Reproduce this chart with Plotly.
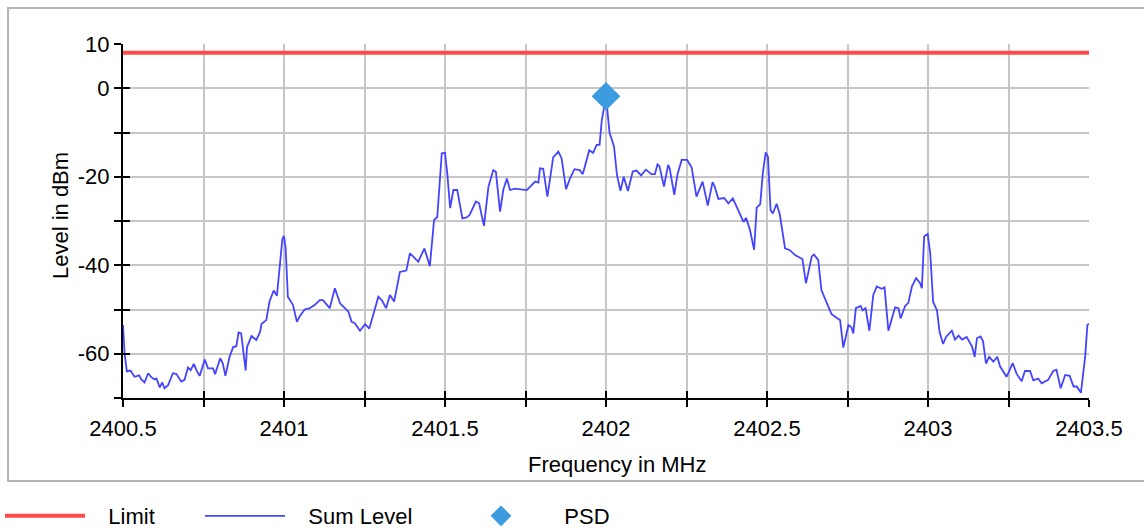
import plotly.graph_objects as go

# Spectrum sweep around 2402 MHz
freq_mhz = [
    2400.500, 2400.505, 2400.512, 2400.523, 2400.536, 2400.550, 2400.557, 2400.567, 2400.578, 2400.588,
    2400.598, 2400.604, 2400.614, 2400.622, 2400.629, 2400.640, 2400.655, 2400.666, 2400.681, 2400.691,
    2400.702, 2400.710, 2400.720, 2400.728, 2400.738, 2400.754, 2400.764, 2400.780, 2400.786, 2400.802,
    2400.810, 2400.818, 2400.831, 2400.842, 2400.852, 2400.859, 2400.867, 2400.881, 2400.885, 2400.899,
    2400.914, 2400.926, 2400.930, 2400.945, 2400.955, 2400.968, 2400.978, 2400.987, 2400.995, 2401.000,
    2401.005, 2401.012, 2401.028, 2401.040, 2401.049, 2401.064, 2401.080, 2401.095, 2401.111, 2401.121,
    2401.142, 2401.158, 2401.174, 2401.189, 2401.200, 2401.210, 2401.220, 2401.236, 2401.252, 2401.265,
    2401.293, 2401.304, 2401.317, 2401.329, 2401.342, 2401.360, 2401.380, 2401.391, 2401.417, 2401.436,
    2401.443, 2401.453, 2401.466, 2401.476, 2401.490, 2401.500, 2401.507, 2401.516, 2401.526, 2401.538,
    2401.554, 2401.567, 2401.576, 2401.596, 2401.606, 2401.621, 2401.635, 2401.650, 2401.658, 2401.671,
    2401.681, 2401.692, 2401.702, 2401.717, 2401.754, 2401.780, 2401.790, 2401.795, 2401.805, 2401.818,
    2401.836, 2401.852, 2401.862, 2401.876, 2401.888, 2401.902, 2401.918, 2401.928, 2401.948, 2401.960,
    2401.971, 2401.980, 2401.987, 2402.000, 2402.011, 2402.025, 2402.034, 2402.045, 2402.055, 2402.068,
    2402.083, 2402.095, 2402.109, 2402.124, 2402.141, 2402.152, 2402.160, 2402.166, 2402.180, 2402.193,
    2402.198, 2402.212, 2402.222, 2402.235, 2402.252, 2402.266, 2402.281, 2402.300, 2402.316, 2402.331,
    2402.337, 2402.349, 2402.367, 2402.380, 2402.394, 2402.404, 2402.414, 2402.427, 2402.435, 2402.447,
    2402.460, 2402.468, 2402.479, 2402.487, 2402.496, 2402.503, 2402.511, 2402.518, 2402.530, 2402.540,
    2402.556, 2402.571, 2402.587, 2402.603, 2402.610, 2402.621, 2402.639, 2402.646, 2402.659, 2402.669,
    2402.685, 2402.700, 2402.715, 2402.727, 2402.737, 2402.753, 2402.762, 2402.768, 2402.776, 2402.791,
    2402.797, 2402.806, 2402.818, 2402.830, 2402.841, 2402.856, 2402.865, 2402.877, 2402.888, 2402.898,
    2402.908, 2402.915, 2402.929, 2402.939, 2402.950, 2402.963, 2402.975, 2402.981, 2402.988, 2402.999,
    2403.007, 2403.016, 2403.028, 2403.036, 2403.047, 2403.056, 2403.074, 2403.084, 2403.095, 2403.106,
    2403.120, 2403.137, 2403.145, 2403.152, 2403.163, 2403.171, 2403.180, 2403.190, 2403.203, 2403.215,
    2403.224, 2403.244, 2403.263, 2403.275, 2403.291, 2403.301, 2403.317, 2403.327, 2403.342, 2403.353,
    2403.373, 2403.389, 2403.399, 2403.412, 2403.426, 2403.440, 2403.452, 2403.462, 2403.475, 2403.488,
    2403.495, 2403.500,
]

sum_level_dbm = [
    -53.5, -60.0, -64.0, -63.8, -65.2, -64.9, -65.8, -66.5, -64.4, -65.3,
    -65.8, -65.6, -67.6, -66.5, -67.8, -67.1, -64.4, -64.6, -66.3, -65.9,
    -63.1, -63.7, -62.3, -63.7, -65.0, -61.3, -63.3, -63.3, -64.6, -61.0,
    -62.2, -65.0, -60.7, -58.5, -58.3, -55.2, -55.4, -63.8, -58.5, -56.0,
    -56.9, -55.0, -53.3, -52.4, -48.2, -45.7, -46.9, -39.6, -34.0, -33.4,
    -36.0, -47.1, -49.0, -52.8, -51.5, -50.0, -49.7, -49.0, -47.9, -47.9,
    -49.7, -45.2, -48.6, -49.7, -50.5, -52.8, -53.1, -54.8, -53.3, -54.3,
    -47.1, -47.9, -49.7, -46.7, -48.2, -41.5, -41.2, -37.3, -39.2, -36.2,
    -38.0, -40.2, -29.8, -29.1, -14.7, -14.6, -19.2, -27.1, -23.0, -23.0,
    -29.4, -29.2, -28.7, -25.6, -26.0, -31.1, -22.2, -18.5, -18.9, -27.9,
    -23.0, -20.4, -23.0, -22.7, -23.0, -21.1, -21.3, -18.1, -18.2, -24.5,
    -15.6, -14.3, -15.8, -22.8, -20.4, -18.3, -18.5, -19.4, -14.0, -14.6,
    -12.8, -12.8, -7.2, -1.8, -10.0, -13.2, -19.6, -23.2, -20.0, -23.2,
    -18.8, -18.6, -19.7, -18.4, -19.4, -19.4, -17.2, -17.6, -22.2, -17.3,
    -18.2, -24.1, -19.5, -16.2, -16.2, -17.9, -24.5, -21.1, -26.5, -21.2,
    -22.1, -25.0, -24.8, -26.0, -24.9, -26.4, -27.9, -30.2, -29.3, -32.0,
    -36.5, -27.0, -26.2, -19.2, -14.5, -15.5, -27.5, -28.3, -26.1, -28.6,
    -36.2, -36.6, -37.7, -38.2, -38.6, -44.1, -38.0, -37.6, -38.8, -45.6,
    -48.5, -51.0, -51.8, -52.4, -58.6, -53.5, -54.0, -55.4, -49.7, -49.2,
    -50.2, -49.7, -54.8, -46.7, -44.8, -45.3, -45.0, -54.8, -52.0, -49.5,
    -49.7, -52.0, -49.2, -48.5, -44.8, -42.9, -44.0, -45.2, -33.5, -32.9,
    -37.3, -48.3, -50.2, -55.1, -57.8, -56.2, -54.8, -56.8, -55.9, -56.8,
    -56.2, -58.4, -60.7, -56.5, -56.1, -57.2, -62.2, -60.7, -61.8, -60.7,
    -62.9, -65.2, -62.1, -64.5, -66.2, -63.9, -63.9, -66.0, -65.6, -66.7,
    -65.9, -63.9, -63.6, -67.8, -64.8, -65.0, -67.4, -67.4, -68.8, -60.7,
    -53.5, -53.2,
]

limit_freq = [2400.5, 2403.5]
limit_dbm = [8.0, 8.0]

psd_freq = [2402.0]
psd_dbm = [-1.8]

x_range = [2400.5, 2403.5]
y_range = [-70, 10]

x_tickvals = [2400.5, 2400.75, 2401.0, 2401.25, 2401.5, 2401.75, 2402.0, 2402.25,
              2402.5, 2402.75, 2403.0, 2403.25, 2403.5]
x_ticktext = ["2400.5", "", "2401", "", "2401.5", "", "2402", "",
              "2402.5", "", "2403", "", "2403.5"]
y_tickvals = [10, 0, -10, -20, -30, -40, -50, -60, -70]
y_ticktext = ["10", "0", "", "-20", "", "-40", "", "-60", ""]

FONT = "Liberation Sans, Arial, sans-serif"
FS = 22
GRID = "#c6c6c6"
W, H = 1144, 531
PAD = "\u00a0\u00a0\u00a0"

fig = go.Figure()

fig.add_trace(go.Scatter(
    x=limit_freq, y=limit_dbm, name=PAD + "Limit", mode="lines",
    line=dict(color="#ff4a4a", width=4), legend="legend",
))
fig.add_trace(go.Scatter(
    x=freq_mhz, y=sum_level_dbm, name=PAD + "Sum Level", mode="lines",
    line=dict(color="#4444ff", width=1.8), legend="legend2",
))
fig.add_trace(go.Scatter(
    x=psd_freq, y=psd_dbm, name=PAD + "PSD", mode="markers",
    marker=dict(symbol="diamond", size=22, color="#3d9be0"), legend="legend3",
))

axis_common = dict(
    showline=True, linecolor="black", linewidth=2,
    ticks="outside", ticklen=7, tickwidth=2, tickcolor="black",
    gridcolor=GRID, gridwidth=2, zeroline=False, automargin=False,
    tickfont=dict(family=FONT, size=FS, color="black"),
    tickmode="array",
)


def legend_at(px):
    return dict(
        orientation="h", xref="container", yref="container",
        x=px / W, xanchor="left", y=(H - 516) / H, yanchor="middle",
        font=dict(family=FONT, size=FS, color="black"), itemwidth=80,
        bgcolor="rgba(0,0,0,0)",
    )


fig.update_layout(
    width=W, height=H,
    margin=dict(l=123, r=55, t=44, b=133, autoexpand=False),
    paper_bgcolor="white", plot_bgcolor="white",
    font=dict(family=FONT, size=FS, color="black"),
    xaxis=dict(range=x_range, tickvals=x_tickvals, ticktext=x_ticktext,
               ticklabelstandoff=3, **axis_common),
    yaxis=dict(range=y_range, tickvals=y_tickvals, ticktext=y_ticktext, **axis_common),
    # overlay axes supply the inner half of the crossing tick marks
    xaxis2=dict(
        overlaying="x", anchor="y", side="bottom", range=x_range,
        tickmode="array", tickvals=x_tickvals, showticklabels=False,
        ticks="inside", ticklen=7, tickwidth=2, tickcolor="black",
        showgrid=False, zeroline=False, showline=False,
    ),
    yaxis2=dict(
        overlaying="y", anchor="x", side="left", range=y_range,
        tickmode="array", tickvals=y_tickvals, showticklabels=False,
        ticks="inside", ticklen=7, tickwidth=2, tickcolor="black",
        showgrid=False, zeroline=False, showline=False,
    ),
    showlegend=True,
    legend=legend_at(-7),
    legend2=legend_at(200),
    legend3=legend_at(456),
    annotations=[
        dict(text="Frequency in MHz", xref="paper", yref="paper",
             x=0.5114, y=-0.189, xanchor="center", yanchor="middle",
             showarrow=False, font=dict(family=FONT, size=FS, color="black")),
        dict(text="Level in dBm", xref="paper", yref="paper",
             x=-0.0652, y=0.514, xanchor="center", yanchor="middle",
             textangle=-90, showarrow=False,
             font=dict(family=FONT, size=FS, color="black")),
    ],
    shapes=[dict(
        type="rect", xref="paper", yref="paper",
        x0=-0.119, x1=1.08, y0=-0.2345, y1=1.1017,
        line=dict(color="#b4b4b4", width=2), fillcolor="rgba(0,0,0,0)",
        layer="below",
    )],
)

# invisible trace so the overlay axes are rendered
fig.add_trace(go.Scatter(x=x_range, y=y_range, xaxis="x2", yaxis="y2",
                         mode="lines", line=dict(width=0), opacity=0,
                         showlegend=False, hoverinfo="skip"))

fig.write_html("out.html")
